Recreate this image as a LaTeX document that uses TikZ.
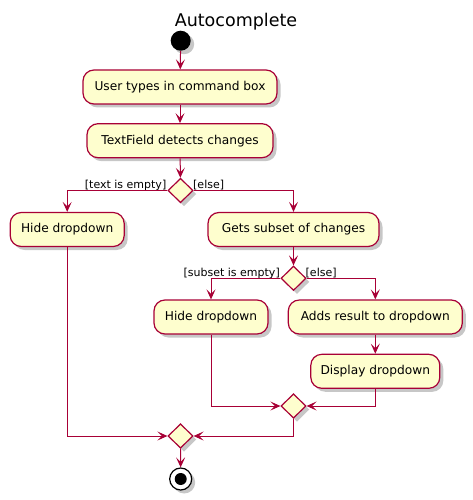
\documentclass[tikz,border=0pt]{standalone}
\usepackage{fontspec}
\setmainfont{DejaVu Sans}
\usetikzlibrary{arrows.meta,shapes.geometric,shadows}
\definecolor{umlred}{HTML}{A80036}
\definecolor{umlfill}{HTML}{FEFECE}
\tikzset{
  shad/.style={drop shadow={shadow xshift=3.5pt,shadow yshift=-3.5pt,fill=black,opacity=0.22}},
  actbox/.style={shape=rectangle,rounded corners=11pt,draw=umlred,fill=umlfill,line width=1.2pt,
    minimum height=34pt,inner xsep=6pt,inner ysep=0pt,font=\fontsize{12.2}{14}\selectfont,shad},
  choice/.style={shape=diamond,draw=umlred,fill=umlfill,line width=1.2pt,minimum width=25pt,
    minimum height=24.5pt,inner sep=0pt,shad},
  flow/.style={draw=umlred,line width=1pt,-{Stealth[length=10pt,width=9pt,inset=4.5pt]}},
  guard/.style={font=\fontsize{11}{13}\selectfont,inner sep=0pt},
}
\begin{document}
\begin{tikzpicture}[x=1pt,y=-1pt]
\useasboundingbox[fill=white] (0,0) rectangle (472,500);
\node[anchor=base,inner sep=0pt,font=\fontsize{17.5}{20}\selectfont] (title) at (236,26.5) {Autocomplete};
\node[circle,fill=black,minimum size=20pt,inner sep=0pt,shad] (start) at (180.7,40.7) {};
\node[actbox,minimum width=194pt] (b1) at (180,87) {User types in command box};
\node[actbox,minimum width=186pt] (b2) at (180,140.7) {TextField detects changes};
\node[choice] (d1) at (180.5,190.5) {};
\node[actbox,minimum width=114pt] (hide1) at (67.2,229.5) {Hide dropdown};
\node[actbox,minimum width=171pt] (gets) at (293.5,229.5) {Gets subset of changes};
\node[choice] (d2) at (293.5,278.3) {};
\node[actbox,minimum width=114pt] (hide2) at (211,317) {Hide dropdown};
\node[actbox,minimum width=174pt] (adds) at (375.3,317) {Adds result to dropdown};
\node[actbox,minimum width=129pt] (disp) at (375.3,371.3) {Display dropdown};
\node[choice] (m1) at (293.5,406) {};
\node[choice] (m2) at (180.5,436) {};
\node[circle,draw=black,line width=1.2pt,fill=white,minimum size=22pt,inner sep=0pt,shad,
  path picture={\fill[black] (path picture bounding box.center) circle (6pt);}] (stop) at (180.7,479) {};
\node[guard,anchor=base east] (g1) at (166.5,188) {[text is empty]};
\node[guard,anchor=base west] (g2) at (193,188) {[else]};
\node[guard,anchor=base east] (g3) at (280,276) {[subset is empty]};
\node[guard,anchor=base west] (g4) at (305.5,276) {[else]};
\draw[flow] (start) -- (b1);
\draw[flow] (b1) -- (b2);
\draw[flow] (b2) -- (d1);
\draw[flow] (d1.west) -| (hide1.north);
\draw[flow] (d1.east) -| (gets.north);
\draw[flow] (gets) -- (d2);
\draw[flow] (d2.west) -| (hide2.north);
\draw[flow] (d2.east) -| (adds.north);
\draw[flow] (adds) -- (disp);
\draw[flow] (hide2.south) |- (m1.west);
\draw[flow] (disp.south) |- (m1.east);
\draw[flow] (m1.south) |- (m2.east);
\draw[flow] (hide1.south) |- (m2.west);
\draw[flow] (m2) -- (stop);
\end{tikzpicture}
\end{document}
